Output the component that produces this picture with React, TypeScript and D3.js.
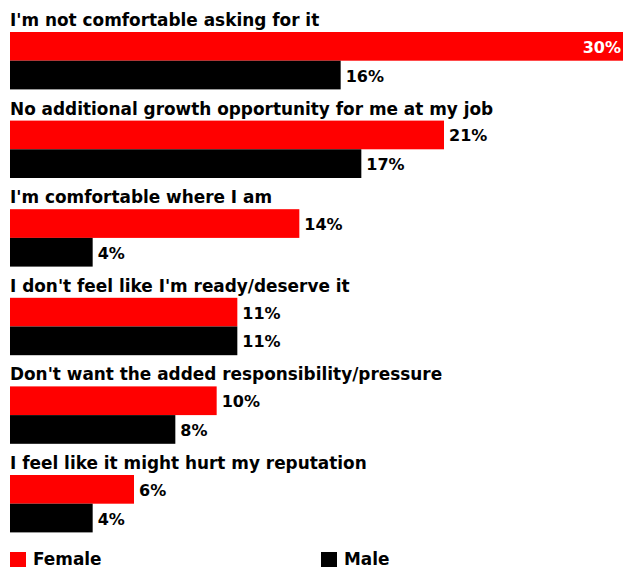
import React from "react";
import * as d3 from "d3";

const categories = [
  "I'm not comfortable asking for it",
  "No additional growth opportunity for me at my job",
  "I'm comfortable where I am",
  "I don't feel like I'm ready/deserve it",
  "Don't want the added responsibility/pressure",
  "I feel like it might hurt my reputation",
];
const female = [30, 21, 14, 11, 10, 6];
const male = [16, 17, 4, 11, 8, 4];
const seriesNames = ["Female", "Male"];
const seriesColors = ["#ff0000", "#000000"];

const W = 623;
const H = 567;
const FONT = "'DejaVu Sans', sans-serif";

export default function App() {
  const x = d3.scaleLinear().domain([0, 30]).range([10, 630]);
  const groupTop = d3
    .scaleBand<number>()
    .domain(d3.range(categories.length))
    .range([32 - 29.6, 32 - 29.6 + 88.6 * categories.length])
    .paddingInner(0)
    .paddingOuter(0);
  const barH = 28.7;
  const offset = 29.6;

  const series = [female, male];

  return (
    <div style={{ position: "fixed", left: 0, top: 0, background: "#fff" }}>
      <svg width={W} height={H} style={{ display: "block" }}>
        <rect width={W} height={H} fill="#fff" />
        {categories.map((cat, i) => {
          const gy = (groupTop(i) as number) + offset;
          return (
            <g key={cat}>
              <text
                x={10}
                y={gy - 6}
                fontFamily={FONT}
                fontWeight="bold"
                fontSize={16.9}
                fill="#000"
              >
                {cat}
              </text>
              {series.map((vals, s) => {
                const v = vals[i];
                const y0 = gy + s * barH;
                const xe = x(v);
                const inside = xe + 45 > W;
                return (
                  <g key={s}>
                    <rect
                      x={x(0)}
                      y={y0}
                      width={xe - x(0)}
                      height={barH}
                      fill={seriesColors[s]}
                    />
                    <text
                      x={inside ? W - 2 : xe + 5}
                      y={y0 + barH / 2 + 6.5}
                      textAnchor={inside ? "end" : "start"}
                      fontFamily={FONT}
                      fontWeight="bold"
                      fontSize={16}
                      fill={inside ? "#fff" : "#000"}
                    >
                      {v}%
                    </text>
                  </g>
                );
              })}
            </g>
          );
        })}
        {seriesNames.map((name, s) => {
          const lx = s === 0 ? 10 : 321;
          return (
            <g key={name}>
              <rect x={lx} y={552} width={16} height={16} fill={seriesColors[s]} />
              <text
                x={lx + 23}
                y={565}
                fontFamily={FONT}
                fontWeight="bold"
                fontSize={16.9}
                fill="#000"
              >
                {name}
              </text>
            </g>
          );
        })}
      </svg>
    </div>
  );
}
